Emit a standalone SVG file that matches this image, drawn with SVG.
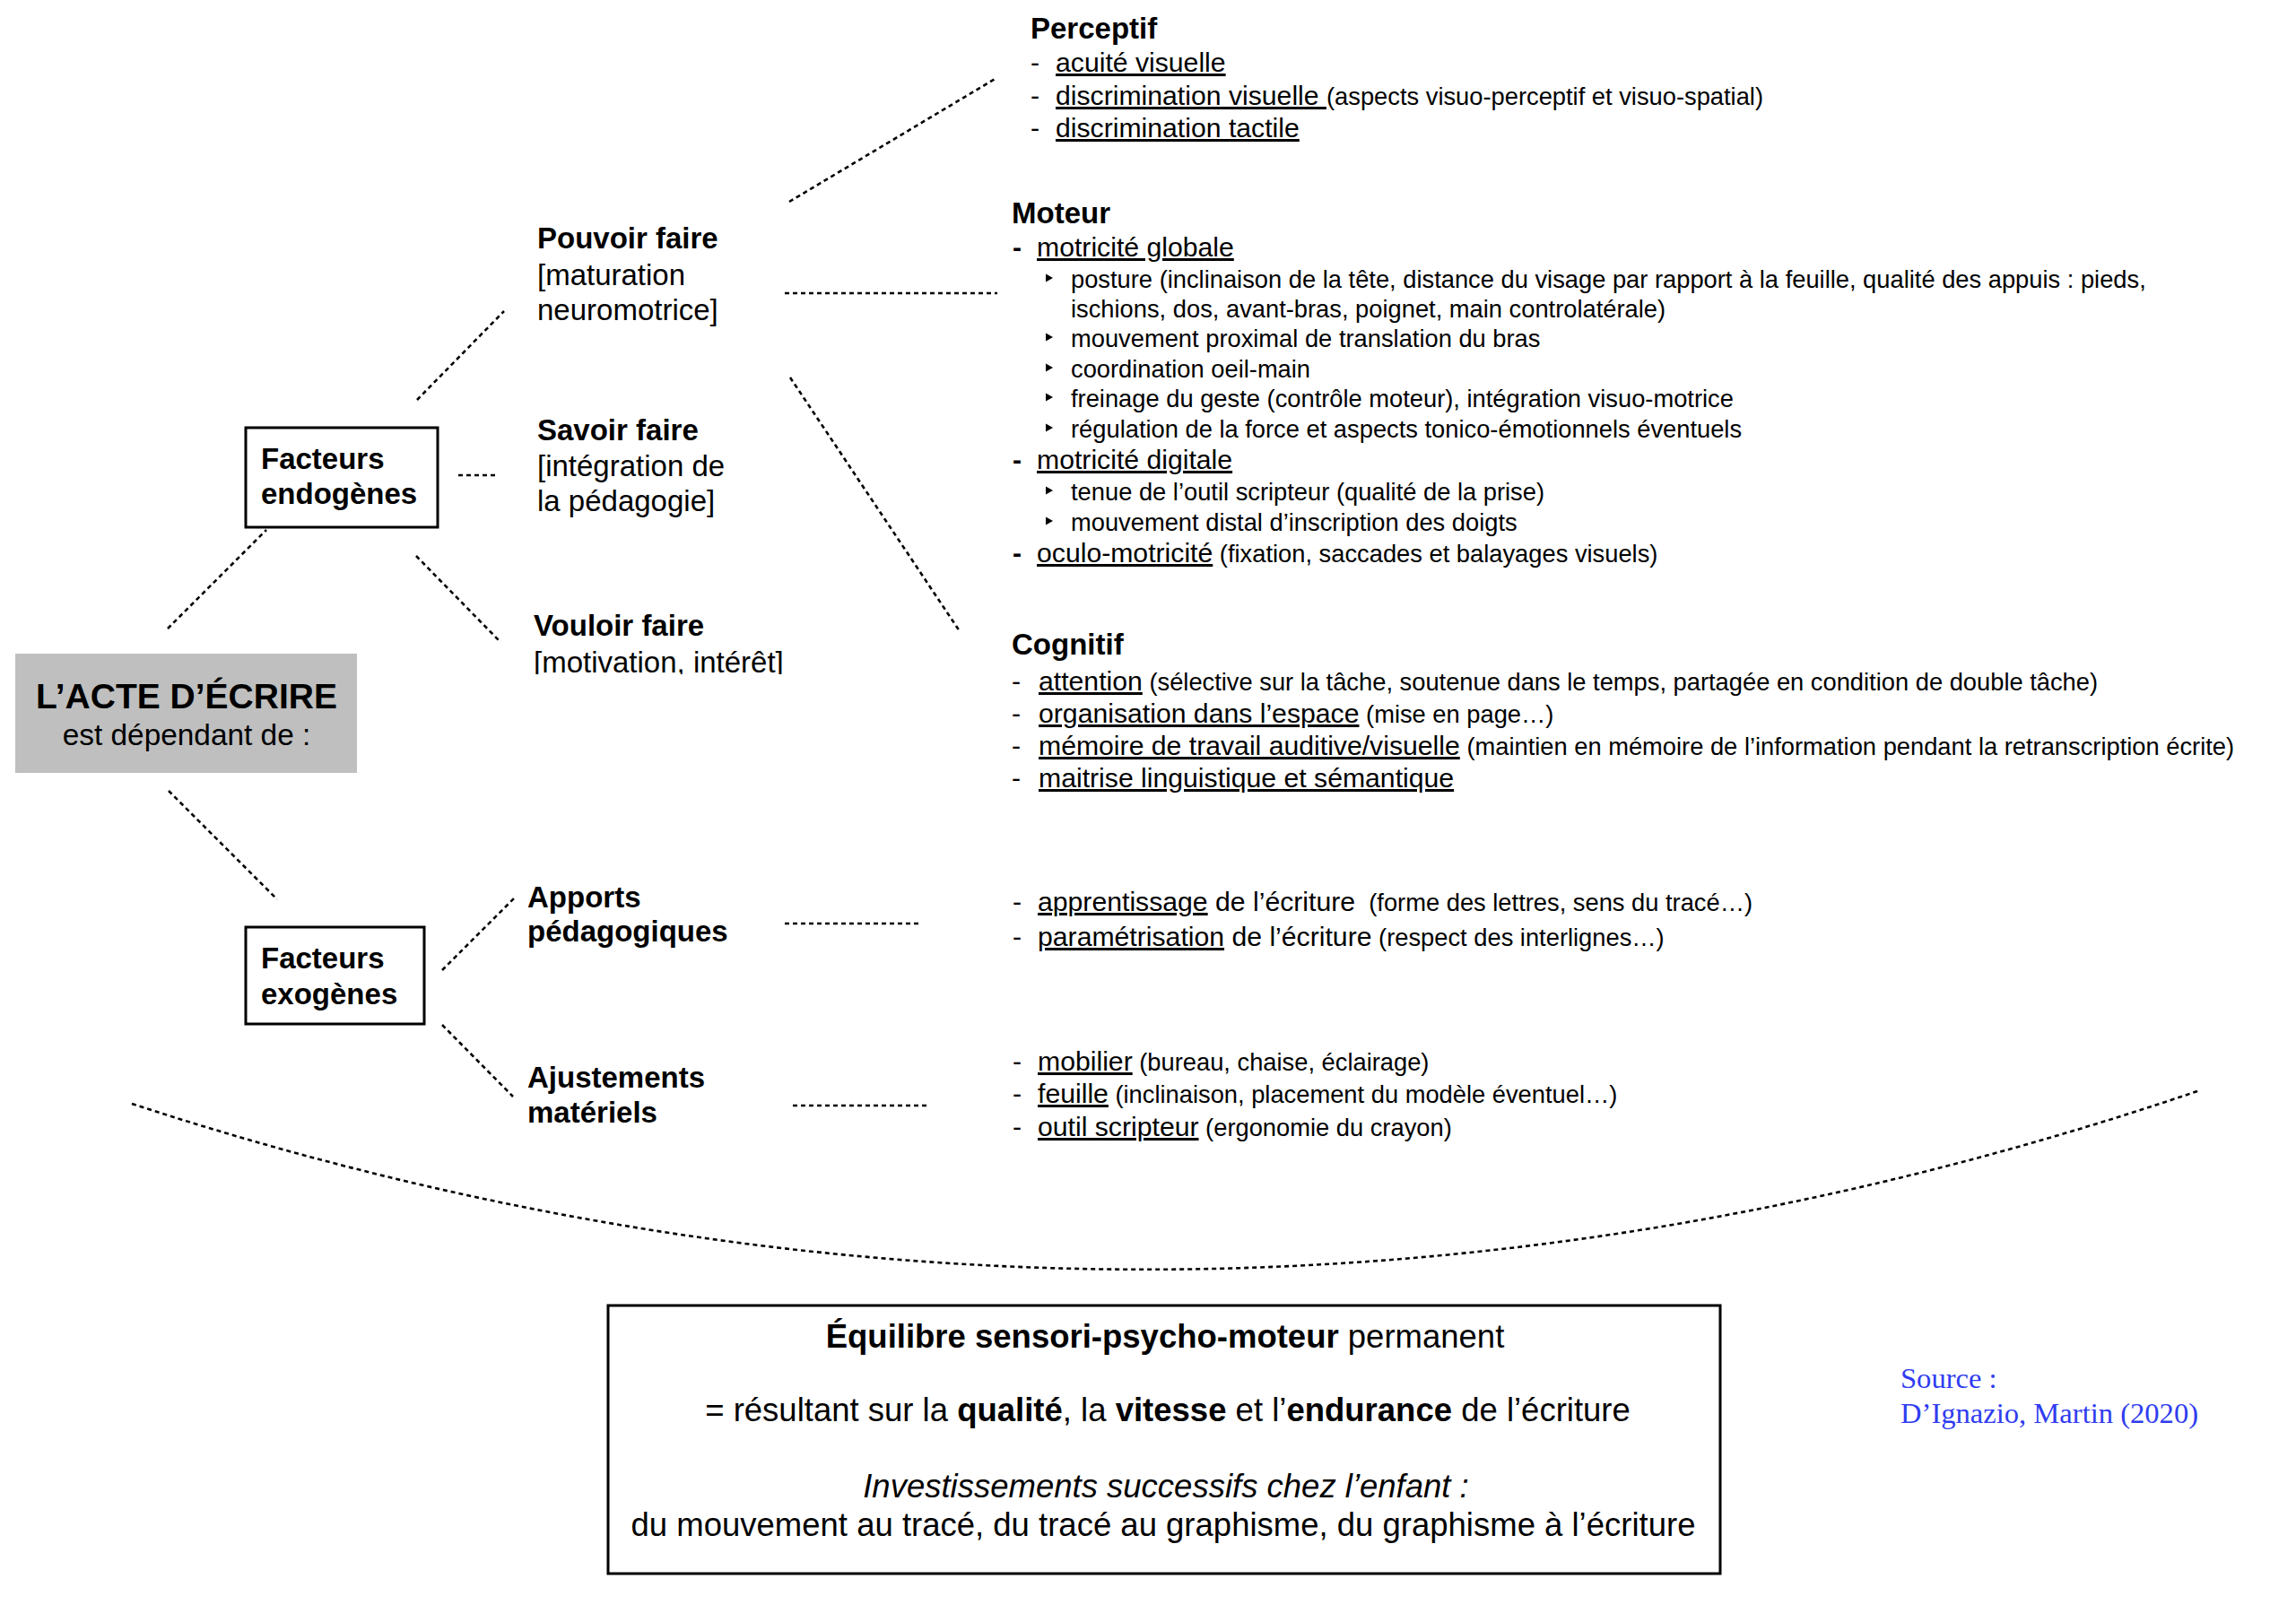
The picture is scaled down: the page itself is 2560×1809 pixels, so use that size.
<svg xmlns="http://www.w3.org/2000/svg" width="2560" height="1809" viewBox="0 0 2560 1809">
<style>
text{font-family:"Liberation Sans",Arial,Helvetica,sans-serif;fill:#000}
.b{font-weight:bold}
.h{font-size:33px}
.m{font-size:30.2px}
.s{font-size:27.3px}
.u{text-decoration:underline}
.big{font-size:36.5px}
.src{font-family:"Liberation Serif","Times New Roman",serif;font-size:32.6px;fill:#2f3cf0}
.dot{fill:none;stroke:#000;stroke-width:2.6;stroke-dasharray:5 4}
.box{fill:#fff;stroke:#000;stroke-width:3}
</style>
<defs>
<polygon id="tri" points="0,-4.5 8,0 0,4.5" fill="#000"/>
<clipPath id="clipV"><rect x="560" y="680" width="400" height="72"/></clipPath>
</defs>
<rect width="2560" height="1809" fill="#fff"/>

<g id="connectors">
<line class="dot" x1="187" y1="701" x2="297" y2="591"/>
<line class="dot" x1="188" y1="882" x2="309" y2="1003"/>
<line class="dot" x1="465" y1="446" x2="562" y2="347"/>
<line class="dot" x1="511" y1="530" x2="556" y2="530"/>
<line class="dot" x1="464" y1="620" x2="556" y2="714"/>
<line class="dot" x1="880" y1="225" x2="1111" y2="87"/>
<line class="dot" x1="875" y1="327" x2="1112" y2="327"/>
<line class="dot" x1="881" y1="421" x2="1070" y2="704"/>
<line class="dot" x1="493" y1="1082" x2="573" y2="1002"/>
<line class="dot" x1="493" y1="1143" x2="572" y2="1223"/>
<line class="dot" x1="875" y1="1030" x2="1024" y2="1030"/>
<line class="dot" x1="884" y1="1233" x2="1035" y2="1233"/>
<path class="dot" d="M147,1231 Q1300,1608 2453,1216"/>
</g>

<g id="acte">
<rect x="17" y="729" width="381" height="133" fill="#bfbfbf"/>
<text x="208" y="790" text-anchor="middle" class="b" font-size="39">L’ACTE D’ÉCRIRE</text>
<text x="208" y="831" text-anchor="middle" font-size="33.4">est dépendant de :</text>
</g>

<g id="endogenes">
<rect class="box" x="274" y="477" width="214" height="111"/>
<text x="291" y="523" class="b h">Facteurs</text>
<text x="291" y="562" class="b h">endogènes</text>
</g>

<g id="exogenes">
<rect class="box" x="274" y="1034" width="199" height="108"/>
<text x="291" y="1080" class="b h">Facteurs</text>
<text x="291" y="1120" class="b h">exogènes</text>
</g>

<g id="pouvoir">
<text x="599" y="277" class="b h">Pouvoir faire</text>
<text x="599" y="318" class="h">[maturation</text>
<text x="599" y="357" class="h">neuromotrice]</text>
</g>

<g id="savoir">
<text x="599" y="491" class="b h">Savoir faire</text>
<text x="599" y="531" class="h">[intégration de</text>
<text x="599" y="570" class="h">la pédagogie]</text>
</g>

<g id="vouloir">
<text x="595" y="709" class="b h">Vouloir faire</text>
<text x="595" y="750" class="h" clip-path="url(#clipV)">[motivation, intérêt]</text>
</g>

<g id="apports">
<text x="588" y="1012" class="b h">Apports</text>
<text x="588" y="1050" class="b h">pédagogiques</text>
</g>

<g id="ajustements">
<text x="588" y="1213" class="b h">Ajustements</text>
<text x="588" y="1252" class="b h">matériels</text>
</g>

<g id="perceptif">
<text x="1149" y="43" class="b h">Perceptif</text>
<text x="1149" y="80" class="m">-</text>
<text x="1177" y="80" class="m u">acuité visuelle</text>
<text x="1149" y="117" class="m">-</text>
<text x="1177" y="117" xml:space="preserve"><tspan class="m u">discrimination visuelle </tspan><tspan class="s">(aspects visuo-perceptif et visuo-spatial)</tspan></text>
<text x="1149" y="153" class="m">-</text>
<text x="1177" y="153" class="m u">discrimination tactile</text>
</g>

<g id="moteur">
<text x="1128" y="249" class="b h">Moteur</text>
<text x="1129" y="286" class="m b">-</text>
<text x="1156" y="286" class="m u">motricité globale</text>
<use href="#tri" x="1166" y="310"/>
<text x="1194" y="321" class="s">posture (inclinaison de la tête, distance du visage par rapport à la feuille, qualité des appuis : pieds,</text>
<text x="1194" y="354" class="s">ischions, dos, avant-bras, poignet, main controlatérale)</text>
<use href="#tri" x="1166" y="376"/>
<text x="1194" y="387" class="s">mouvement proximal de translation du bras</text>
<use href="#tri" x="1166" y="410"/>
<text x="1194" y="421" class="s">coordination oeil-main</text>
<use href="#tri" x="1166" y="443"/>
<text x="1194" y="454" class="s">freinage du geste (contrôle moteur), intégration visuo-motrice</text>
<use href="#tri" x="1166" y="477"/>
<text x="1194" y="488" class="s">régulation de la force et aspects tonico-émotionnels éventuels</text>
<text x="1129" y="523" class="m b">-</text>
<text x="1156" y="523" class="m u">motricité digitale</text>
<use href="#tri" x="1166" y="547"/>
<text x="1194" y="558" class="s">tenue de l’outil scripteur (qualité de la prise)</text>
<use href="#tri" x="1166" y="581"/>
<text x="1194" y="592" class="s">mouvement distal d’inscription des doigts</text>
<text x="1129" y="627" class="m b">-</text>
<text x="1156" y="627" xml:space="preserve"><tspan class="m u">oculo-motricité</tspan><tspan class="s"> (fixation, saccades et balayages visuels)</tspan></text>
</g>

<g id="cognitif">
<text x="1128" y="730" class="b h">Cognitif</text>
<text x="1128" y="770" class="m">-</text>
<text x="1158" y="770" xml:space="preserve"><tspan class="m u">attention</tspan><tspan class="s"> (sélective sur la tâche, soutenue dans le temps, partagée en condition de double tâche)</tspan></text>
<text x="1128" y="806" class="m">-</text>
<text x="1158" y="806" xml:space="preserve"><tspan class="m u">organisation dans l’espace</tspan><tspan class="s"> (mise en page…)</tspan></text>
<text x="1128" y="842" class="m">-</text>
<text x="1158" y="842" xml:space="preserve"><tspan class="m u">mémoire de travail auditive/visuelle</tspan><tspan class="s"> (maintien en mémoire de l’information pendant la retranscription écrite)</tspan></text>
<text x="1128" y="878" class="m">-</text>
<text x="1158" y="878" class="m u">maitrise linguistique et sémantique</text>
</g>

<g id="apports-list">
<text x="1129" y="1016" class="m">-</text>
<text x="1157" y="1016" xml:space="preserve"><tspan class="m u">apprentissage</tspan><tspan class="m"> de l’écriture</tspan><tspan class="s">  (forme des lettres, sens du tracé…)</tspan></text>
<text x="1129" y="1055" class="m">-</text>
<text x="1157" y="1055" xml:space="preserve"><tspan class="m u">paramétrisation</tspan><tspan class="m"> de l’écriture</tspan><tspan class="s"> (respect des interlignes…)</tspan></text>
</g>

<g id="ajustements-list">
<text x="1129" y="1194" class="m">-</text>
<text x="1157" y="1194" xml:space="preserve"><tspan class="m u">mobilier</tspan><tspan class="s"> (bureau, chaise, éclairage)</tspan></text>
<text x="1129" y="1230" class="m">-</text>
<text x="1157" y="1230" xml:space="preserve"><tspan class="m u">feuille</tspan><tspan class="s"> (inclinaison, placement du modèle éventuel…)</tspan></text>
<text x="1129" y="1267" class="m">-</text>
<text x="1157" y="1267" xml:space="preserve"><tspan class="m u">outil scripteur</tspan><tspan class="s"> (ergonomie du crayon)</tspan></text>
</g>

<g id="equilibre">
<rect class="box" x="678" y="1456" width="1240" height="299"/>
<text x="1299" y="1503" text-anchor="middle" class="big" xml:space="preserve"><tspan class="b">Équilibre sensori-psycho-moteur</tspan> permanent</text>
<text x="1302" y="1585" text-anchor="middle" class="big" xml:space="preserve">= résultant sur la <tspan class="b">qualité</tspan>, la <tspan class="b">vitesse</tspan> et l’<tspan class="b">endurance</tspan> de l’écriture</text>
<text x="1300" y="1670" text-anchor="middle" class="big" font-style="italic">Investissements successifs chez l’enfant :</text>
<text x="1297" y="1713" text-anchor="middle" class="big">du mouvement au tracé, du tracé au graphisme, du graphisme à l’écriture</text>
</g>

<g id="source">
<text x="2119" y="1548" class="src">Source :</text>
<text x="2119" y="1587" class="src">D’Ignazio, Martin (2020)</text>
</g>
</svg>
